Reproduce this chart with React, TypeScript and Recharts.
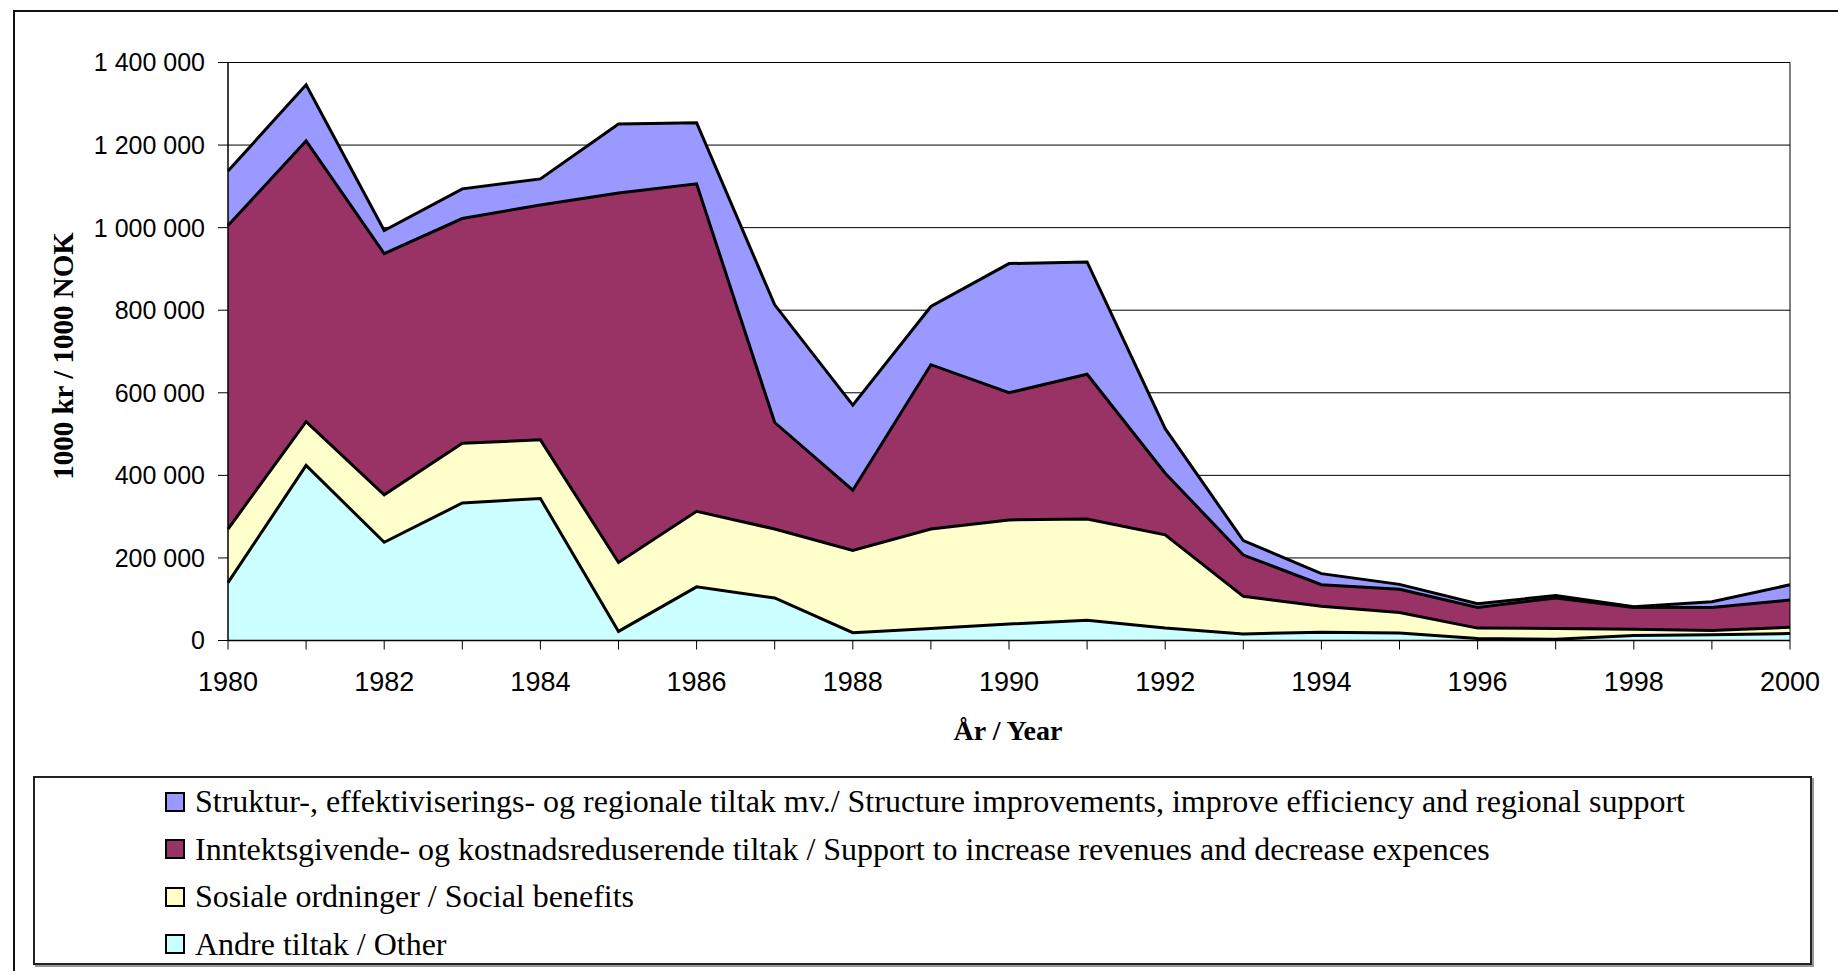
import React from "react";
import {
  AreaChart,
  Area,
  XAxis,
  YAxis,
  CartesianGrid,
  ReferenceLine,
  Legend,
  Label,
} from "recharts";

const years = [
  "1980", "1981", "1982", "1983", "1984", "1985", "1986", "1987", "1988", "1989", "1990",
  "1991", "1992", "1993", "1994", "1995", "1996", "1997", "1998", "1999", "2000",
];

// 1000 NOK
const andre = [140000, 424000, 238000, 333000, 344000, 22000, 130000, 103000, 19000, 29000, 40000,
  49000, 30000, 16000, 20000, 18000, 5000, 3000, 12000, 14000, 17000];
const sosiale = [130000, 106000, 115000, 145000, 142000, 167000, 183000, 167000, 199000, 241000, 252000,
  245000, 226000, 91000, 63000, 50000, 25000, 26000, 15000, 10000, 15000];
const inntekt = [735000, 680000, 584000, 544000, 569000, 895000, 793000, 258000, 146000, 398000, 308000,
  351000, 149000, 100000, 52000, 56000, 50000, 74000, 53000, 56000, 66000];
const struktur = [132000, 136000, 56000, 72000, 63000, 167000, 148000, 285000, 206000, 141000, 313000,
  272000, 108000, 35000, 27000, 12000, 9000, 6000, 2000, 14000, 37000];

const yTicks = [0, 200000, 400000, 600000, 800000, 1000000, 1200000, 1400000];

const series = [
  { key: "andre", name: "Andre tiltak / Other", color: "#CCFFFF" },
  { key: "sosiale", name: "Sosiale ordninger / Social benefits", color: "#FFFFCC" },
  {
    key: "inntekt",
    name: "Inntektsgivende- og kostnadsreduserende tiltak / Support to increase revenues and decrease expences",
    color: "#993366",
  },
  {
    key: "struktur",
    name: "Struktur-, effektiviserings- og regionale tiltak mv./ Structure improvements, improve efficiency and regional support",
    color: "#9999FF",
  },
];

const data = years.map((year, i) => ({
  year,
  andre: andre[i],
  sosiale: sosiale[i],
  inntekt: inntekt[i],
  struktur: struktur[i],
}));

const fmt = (v: number) => String(v).replace(/\B(?=(\d{3})+(?!\d))/g, " ");

const LegendBox = () => (
  <div
    style={{
      width: 1779,
      height: 189,
      boxSizing: "border-box",
      border: "2px solid #222",
      boxShadow: "2px 2px 0 #999",
      background: "#fff",
    }}
  >
    {[...series].reverse().map((s) => (
      <div
        key={s.key}
        style={{
          display: "flex",
          alignItems: "center",
          height: 47.5,
          paddingLeft: 130,
          fontFamily: "'Liberation Serif', 'Times New Roman', serif",
          fontSize: 32,
          color: "#000",
          whiteSpace: "nowrap",
        }}
      >
        <span
          style={{
            display: "inline-block",
            width: 20,
            height: 20,
            boxSizing: "border-box",
            border: "2px solid #000",
            background: s.color,
            marginRight: 10,
          }}
        />
        <span>{s.name}</span>
      </div>
    ))}
  </div>
);

export default function App() {
  return (
    <div
      style={{
        position: "absolute",
        left: 0,
        top: 0,
        width: 1838,
        height: 971,
        overflow: "hidden",
        background: "#fff",
      }}
    >
      <div
        style={{
          position: "absolute",
          left: 13,
          top: 10,
          width: 2000,
          height: 1200,
          border: "2px solid #111",
        }}
      />
      <div style={{ position: "absolute", left: 0, top: 0 }}>
        <AreaChart
          width={1838}
          height={971}
          data={data}
          margin={{ top: 62.5, right: 48, left: 108, bottom: 290.5 }}
        >
          <CartesianGrid vertical={false} stroke="#000" strokeWidth={1} />
          <XAxis
            dataKey="year"
            scale="point"
            interval={0}
            height={40}
            padding={{ left: 0, right: 0 }}
            tickSize={9}
            tickMargin={22}
            axisLine={{ stroke: "#000", strokeWidth: 1.5 }}
            tickLine={{ stroke: "#000" }}
            tick={{ fill: "#000", fontSize: 27, fontFamily: "'Liberation Sans', Arial, sans-serif" }}
            tickFormatter={(v: string) => (Number(v) % 2 === 0 ? v : "")}
          >
            <Label
              content={() => (
                <text
                  x={1008}
                  y={740}
                  textAnchor="middle"
                  fontFamily="'Liberation Serif', 'Times New Roman', serif"
                  fontWeight="bold"
                  fontSize={28}
                  fill="#000"
                >
                  År / Year
                </text>
              )}
            />
          </XAxis>
          <YAxis
            width={120}
            domain={[0, 1400000]}
            ticks={yTicks}
            interval={0}
            tickSize={10}
            tickMargin={13}
            axisLine={{ stroke: "#000", strokeWidth: 1.5 }}
            tickLine={{ stroke: "#000" }}
            tick={{ fill: "#000", fontSize: 25, fontFamily: "'Liberation Sans', Arial, sans-serif" }}
            tickFormatter={fmt}
          >
            <Label
              content={() => (
                <text
                  x={63}
                  y={356}
                  transform="rotate(-90 63 356)"
                  textAnchor="middle"
                  dominantBaseline="central"
                  fontFamily="'Liberation Serif', 'Times New Roman', serif"
                  fontWeight="bold"
                  fontSize={29}
                  fill="#000"
                >
                  1000 kr / 1000 NOK
                </text>
              )}
            />
          </YAxis>
          <ReferenceLine x="2000" stroke="#000" strokeWidth={1} />
          {/* fills */}
          {series.map((s) => (
            <Area
              key={s.key}
              type="linear"
              dataKey={s.key}
              name={s.name}
              stackId="fill"
              fill={s.color}
              fillOpacity={1}
              stroke="none"
              dot={false}
              activeDot={false}
              isAnimationActive={false}
            />
          ))}
          {/* outlines drawn on top so each keeps its full width */}
          {series.map((s) => (
            <Area
              key={s.key + "-line"}
              type="linear"
              dataKey={s.key}
              stackId="line"
              fill="none"
              stroke="#000"
              strokeWidth={3}
              legendType="none"
              dot={false}
              activeDot={false}
              isAnimationActive={false}
            />
          ))}
          <Legend
            layout="vertical"
            align="center"
            verticalAlign="middle"
            wrapperStyle={{ left: 33, top: 776, width: 1779, height: 189 }}
            content={() => <LegendBox />}
          />
        </AreaChart>
      </div>
    </div>
  );
}
